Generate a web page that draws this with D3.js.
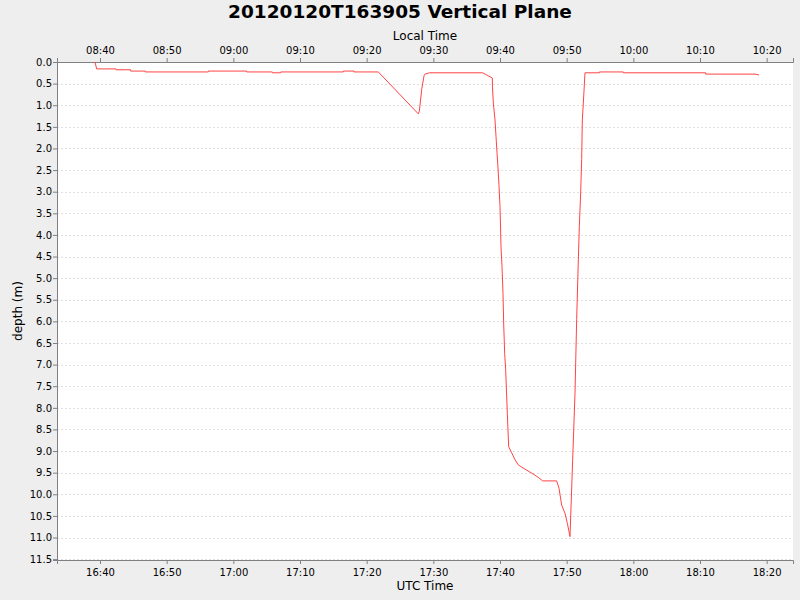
<!DOCTYPE html>
<html>
<head>
<meta charset="utf-8">
<script src="https://cdn.jsdelivr.net/npm/d3@7"></script>
<style>
  body { margin: 0; background: #eeeeee; }
  svg { display: block; font-family: "DejaVu Sans", sans-serif; }
</style>
</head>
<body>
<svg width="800" height="600"></svg>
<script>
// UTC sample times and depths
var times = ["16:39:15", "16:39:30", "16:42:24", "16:42:24", "16:44:36", "16:44:36",
    "16:46:48", "16:46:48", "16:56:15", "16:56:15", "17:02:00", "17:02:00",
    "17:05:51", "17:05:51", "17:07:06", "17:07:06", "17:16:30", "17:16:30",
    "17:18:06", "17:18:06", "17:21:45", "17:27:45", "17:27:54", "17:28:15",
    "17:28:36", "17:28:45", "17:29:24", "17:37:24", "17:38:00", "17:38:51",
    "17:38:52", "17:39:00", "17:39:15", "17:39:24", "17:39:33", "17:39:42",
    "17:39:51", "17:40:00", "17:40:09", "17:40:18", "17:40:27", "17:40:33",
    "17:40:42", "17:40:51", "17:41:06", "17:41:18", "17:41:45", "17:42:15",
    "17:42:45", "17:43:45", "17:44:45", "17:45:45", "17:46:24", "17:48:30",
    "17:48:51", "17:49:15", "17:49:45", "17:50:06", "17:50:30", "17:50:54",
    "17:51:15", "17:51:30", "17:51:45", "17:51:54", "17:52:06", "17:52:15",
    "17:52:21", "17:52:30", "17:52:39", "17:52:45", "17:54:54", "17:54:54",
    "17:58:30", "17:58:30", "18:10:51", "18:10:51", "18:18:15", "18:18:51"];
var depths = [0.00, 0.16, 0.16, 0.18, 0.18, 0.21,
    0.21, 0.23, 0.23, 0.21, 0.21, 0.23,
    0.23, 0.25, 0.25, 0.23, 0.23, 0.21,
    0.21, 0.23, 0.23, 1.20, 1.14, 0.64,
    0.32, 0.28, 0.25, 0.25, 0.30, 0.37,
    0.56, 0.95, 1.34, 1.72, 2.10, 2.45,
    2.86, 3.34, 4.27, 4.73, 5.35, 6.04,
    6.74, 7.12, 8.13, 8.90, 9.04, 9.20,
    9.32, 9.42, 9.51, 9.61, 9.69, 9.69,
    9.86, 10.25, 10.44, 10.67, 10.98, 9.20,
    7.66, 5.96, 4.58, 3.80, 3.03, 2.26,
    1.34, 0.95, 0.53, 0.25, 0.25, 0.23,
    0.23, 0.25, 0.25, 0.28, 0.28, 0.30];

var titleText = "20120120T163905 Vertical Plane";
var timeRange = ["16:33:33", "18:23:57"];
var depthRange = [0, 11.52];
var localOffsetHours = -8;

var parseTime = d3.utcParse("%Y-%m-%d %H:%M:%S");
function toDate(s) { return parseTime("2012-01-20 " + s); }

var data = times.map(function (t, i) { return { t: toDate(t), d: depths[i] }; });

var svg = d3.select("svg");
var plotL = 57, plotR = 793, plotT = 62, plotB = 560;

svg.append("rect")
    .attr("x", plotL).attr("y", plotT)
    .attr("width", plotR - plotL).attr("height", plotB - plotT)
    .style("fill", "#ffffff");

var x = d3.scaleUtc()
    .domain(timeRange.map(toDate))
    .range([plotL, plotR]);

var xLocal = d3.scaleUtc()
    .domain(timeRange.map(function (s) { return d3.utcHour.offset(toDate(s), localOffsetHours); }))
    .range([plotL, plotR]);

var y = d3.scaleLinear()
    .domain(depthRange)
    .range([plotT, plotB]);

var yTicks = d3.range(0, 11.51, 0.5);

// horizontal dashed grid
svg.append("g")
    .selectAll("line")
    .data(yTicks.slice(1))
    .enter()
    .append("line")
    .attr("x1", plotL).attr("x2", plotR)
    .attr("y1", function (d) { return Math.round(y(d)) + 0.5; })
    .attr("y2", function (d) { return Math.round(y(d)) + 0.5; })
    .style("stroke", "#e0e0e0")
    .style("stroke-dasharray", "2,2");

var fmt = d3.utcFormat("%H:%M");

var xAxisBottom = svg.append("g")
    .attr("transform", "translate(0," + plotB + ")")
    .call(d3.axisBottom(x).ticks(d3.utcMinute.every(10)).tickFormat(fmt).tickSizeOuter(0).tickSize(4));

var xAxisTop = svg.append("g")
    .attr("transform", "translate(0," + plotT + ")")
    .call(d3.axisTop(xLocal).ticks(d3.utcMinute.every(10)).tickFormat(fmt).tickSizeOuter(0).tickSize(4));

var yAxis = svg.append("g")
    .attr("transform", "translate(" + plotL + ",0)")
    .call(d3.axisLeft(y).tickValues(yTicks).tickFormat(d3.format(".1f")).tickSizeOuter(0).tickSize(4));

[xAxisBottom, xAxisTop, yAxis].forEach(function (g) {
    g.selectAll("path, line").style("stroke", "#808080");
    g.selectAll("text").style("font-family", "DejaVu Sans").style("font-size", "10px").style("fill", "#000");
});
xAxisBottom.selectAll("text").attr("dy", "0.9em");
xAxisTop.selectAll("text").attr("dy", "-0.1em");
yAxis.selectAll("text").attr("x", -5);

// depth trace
var line = d3.line()
    .x(function (d) { return x(d.t); })
    .y(function (d) { return y(d.d); });

svg.append("path")
    .datum(data)
    .attr("d", line)
    .style("fill", "none")
    .style("stroke", "#ff4444")
    .style("stroke-width", 1);

// titles
svg.append("text")
    .attr("x", 400).attr("y", 18)
    .attr("text-anchor", "middle")
    .style("font-size", "18.5px")
    .style("font-weight", "bold")
    .text(titleText);

svg.append("text")
    .attr("x", (plotL + plotR) / 2).attr("y", 40)
    .attr("text-anchor", "middle")
    .style("font-size", "12px")
    .text("Local Time");

svg.append("text")
    .attr("x", (plotL + plotR) / 2).attr("y", 590)
    .attr("text-anchor", "middle")
    .style("font-size", "12px")
    .text("UTC Time");

svg.append("text")
    .attr("transform", "translate(22," + (plotT + plotB) / 2 + ") rotate(-90)")
    .attr("text-anchor", "middle")
    .style("font-size", "12px")
    .text("depth (m)");
</script>
</body>
</html>
